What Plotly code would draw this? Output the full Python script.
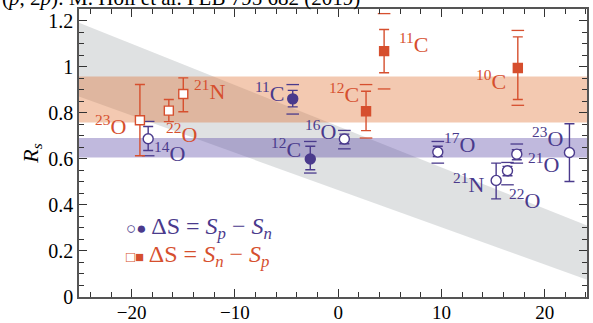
import plotly.graph_objects as go

PURPLE = "#4a3a8c"
ORANGE = "#d64f2e"

# ---- data ----
# purple open circles (ΔS = Sp - Sn)
po_x = [-18.4, 0.6, 9.65, 15.3, 16.4, 17.3, 22.4]
po_y = [0.687, 0.686, 0.629, 0.506, 0.548, 0.620, 0.627]
po_up = [0.053, 0.021, 0.025, 0.075, 0.019, 0.019, 0.125]
po_dn = [0.051, 0.021, 0.019, 0.080, 0.022, 0.024, 0.126]
po_sys_hi = [0.762, 0.723, 0.675, None, 0.584, 0.664, None]
po_sys_lo = [0.613, 0.643, 0.581, None, 0.487, 0.581, None]

# purple filled circles
pf_x = [-4.4, -2.7]
pf_y = [0.860, 0.599]
pf_up = [0.037, 0.055]
pf_dn = [0.035, 0.047]
pf_sys_hi = [0.922, 0.675]
pf_sys_lo = [0.794, 0.538]

# orange open squares (ΔS = Sn - Sp)
oo_x = [-19.2, -16.4, -15.0]
oo_y = [0.767, 0.809, 0.881]
oo_up = [0.155, 0.048, 0.070]
oo_dn = [0.154, 0.048, 0.077]

# orange filled squares
of_x = [2.7, 4.45, 17.4]
of_y = [0.806, 1.067, 0.994]
of_up = [0.087, 0.094, 0.135]
of_dn = [0.084, 0.094, 0.137]
of_sys_hi = [0.922, 1.230, 1.157]
of_sys_lo = [0.690, 0.903, 0.832]

# bands
x_range = [-25.1, 24.1]
orange_band = [0.757, 0.957]
purple_band = [0.605, 0.690]
gray_upper = [1.19, 0.31]
gray_lower = [0.87, 0.075]

# labels: (mass, element, x, y, anchor, color)
labels = [
    ("23", "O", -20.33, 0.748, "right", ORANGE),
    ("22", "O", -16.84, 0.713, "left", ORANGE),
    ("21", "N", -14.13, 0.900, "left", ORANGE),
    ("14", "O", -18.0, 0.630, "left", PURPLE),
    ("11", "C", -4.94, 0.891, "right", PURPLE),
    ("12", "C", -3.39, 0.648, "right", PURPLE),
    ("16", "O", 0.0, 0.726, "right", PURPLE),
    ("12", "C", 2.23, 0.887, "right", ORANGE),
    ("11", "C", 5.71, 1.104, "left", ORANGE),
    ("10", "C", 16.46, 0.943, "right", ORANGE),
    ("17", "O", 10.07, 0.670, "left", PURPLE),
    ("23", "O", 21.97, 0.696, "right", PURPLE),
    ("21", "O", 18.2, 0.583, "left", PURPLE),
    ("21", "N", 14.33, 0.496, "right", PURPLE),
    ("22", "O", 16.36, 0.426, "left", PURPLE),
]

FONT = "Liberation Serif, Times New Roman, DejaVu Serif, serif"

fig = go.Figure()

# gray band
fig.add_trace(go.Scatter(
    x=[x_range[0], x_range[1], x_range[1], x_range[0]],
    y=[gray_upper[0], gray_upper[1], gray_lower[1], gray_lower[0]],
    fill="toself", fillcolor="rgba(150,155,160,0.30)", line=dict(width=0),
    mode="lines", hoverinfo="skip", showlegend=False))
# orange band
fig.add_trace(go.Scatter(
    x=[x_range[0], x_range[1], x_range[1], x_range[0]],
    y=[orange_band[1], orange_band[1], orange_band[0], orange_band[0]],
    fill="toself", fillcolor="rgba(224,112,50,0.38)", line=dict(width=0),
    mode="lines", hoverinfo="skip", showlegend=False))
# purple band
fig.add_trace(go.Scatter(
    x=[x_range[0], x_range[1], x_range[1], x_range[0]],
    y=[purple_band[1], purple_band[1], purple_band[0], purple_band[0]],
    fill="toself", fillcolor="rgba(90,70,165,0.38)", line=dict(width=0),
    mode="lines", hoverinfo="skip", showlegend=False))


def sys_brackets(xs, hi, lo, color):
    bx, by = [], []
    for x, h, l in zip(xs, hi, lo):
        if h is not None:
            bx += [x, x]
            by += [h, l]
    fig.add_trace(go.Scatter(
        x=bx, y=by, mode="markers",
        marker=dict(symbol="line-ew", size=9, line=dict(color=color, width=1.3)),
        showlegend=False, hoverinfo="skip"))


sys_brackets(po_x, po_sys_hi, po_sys_lo, PURPLE)
sys_brackets(pf_x, pf_sys_hi, pf_sys_lo, PURPLE)
sys_brackets(of_x, of_sys_hi, of_sys_lo, ORANGE)


def pts(xs, ys, up, dn, color, symbol, filled, size):
    fig.add_trace(go.Scatter(
        x=xs, y=ys, mode="markers",
        error_y=dict(type="data", symmetric=False, array=up, arrayminus=dn,
                     color=color, thickness=1.4, width=5),
        marker=dict(symbol=symbol, size=size,
                    color=color if filled else "white",
                    line=dict(color=color, width=1.4)),
        showlegend=False))


pts(po_x, po_y, po_up, po_dn, PURPLE, "circle", False, 10)
pts(pf_x, pf_y, pf_up, pf_dn, PURPLE, "circle", True, 10)
pts(oo_x, oo_y, oo_up, oo_dn, ORANGE, "square", False, 9)
pts(of_x, of_y, of_up, of_dn, ORANGE, "square", True, 9)

for mass, el, x, y, anc, col in labels:
    fig.add_annotation(x=x, y=y, xref="x", yref="y", showarrow=False,
                       text=f"<sup>{mass}</sup>{el}", xanchor=anc, yanchor="middle",
                       font=dict(family=FONT, size=22, color=col))

# legend-like annotations
fig.add_annotation(x=-20.7, y=0.30, xref="x", yref="y", showarrow=False, xanchor="left",
                   yanchor="middle",
                   text="<span style='font-size:17px'>○●</span> ΔS = <i>S</i><sub><i>p</i></sub> − <i>S</i><sub><i>n</i></sub>",
                   font=dict(family=FONT, size=24, color=PURPLE))
fig.add_annotation(x=-20.7, y=0.178, xref="x", yref="y", showarrow=False, xanchor="left",
                   yanchor="middle",
                   text="<span style='font-size:15px'>□■</span> ΔS = <i>S</i><sub><i>n</i></sub> − <i>S</i><sub><i>p</i></sub>",
                   font=dict(family=FONT, size=24, color=ORANGE))

# top (cropped) text
fig.add_annotation(x=0, y=1, xref="paper", yref="paper", showarrow=False,
                   xanchor="left", yanchor="middle", xshift=-79, yshift=11,
                   text="(<i>p</i>, 2<i>p</i>): M. Holl et al. PLB 795 682 (2019)",
                   font=dict(family=FONT, size=21, color="black"))

axis_common = dict(showline=True, linecolor="#555555", linewidth=1.5, mirror="ticks",
                   ticks="inside", ticklen=8, tickwidth=1.2, tickcolor="#333333",
                   showgrid=False, zeroline=False, automargin=False)

fig.update_xaxes(range=x_range, tickvals=[-20, -10, 0, 10, 20],
                 ticktext=["−20", "−10", "0", "10", "20"],
                 ticklabelstandoff=-3,
                 tickfont=dict(family=FONT, size=19, color="black"),
                 minor=dict(dtick=2, tick0=0, ticks="inside", ticklen=5, tickcolor="#333333",
                            showgrid=False),
                 **axis_common)
fig.update_yaxes(range=[0, 1.25], tickvals=[0, 0.2, 0.4, 0.6, 0.8, 1.0, 1.2],
                 ticktext=["0", "0.2", "0.4", "0.6", "0.8", "1", "1.2"],
                 tickfont=dict(family=FONT, size=20, color="black"),
                 minor=dict(dtick=0.05, tick0=0, ticks="inside", ticklen=5, tickcolor="#333333",
                            showgrid=False),
                 title=dict(text="<i>R</i><sub><i>s</i></sub>", standoff=4,
                            font=dict(family=FONT, size=22, color="black")),
                 **axis_common)

fig.update_layout(width=593, height=323, margin=dict(l=79, r=6, t=9, b=26),
                  plot_bgcolor="white", paper_bgcolor="white", showlegend=False)

fig.write_html("out.html")
